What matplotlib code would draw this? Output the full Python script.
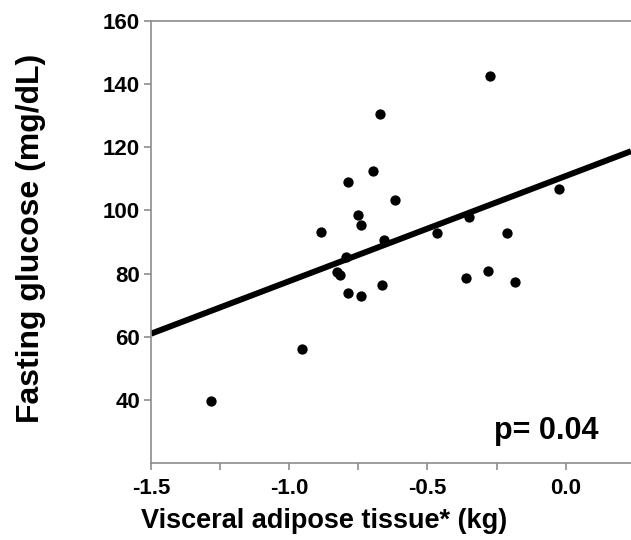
import matplotlib
matplotlib.use("Agg")
import matplotlib.pyplot as plt
import numpy as np

plt.rcParams['font.family'] = ['Liberation Sans', 'DejaVu Sans']

vat = [-0.274, -0.672, -0.697, -0.788, -0.616, -0.024, -0.751, -0.739, -0.350,
       -0.886, -0.464, -0.211, -0.657, -0.793, -0.829, -0.817, -0.362, -0.280,
       -0.183, -0.663, -0.787, -0.739, -0.953, -1.283]
glucose = [142.6, 130.5, 112.5, 109.1, 103.3, 106.9, 98.5, 95.4, 98.0,
           93.3, 92.7, 93.0, 90.6, 85.4, 80.5, 79.6, 78.5, 80.8,
           77.4, 76.5, 73.8, 72.9, 56.1, 39.5]
fit_slope = 33.3
fit_intercept = 110.9
x_ticks = [-1.5, -1.0, -0.5, 0.0]
x_tick_labels = ['-1.5', '-1.0', '-0.5', '0.0']
y_ticks = [40, 60, 80, 100, 120, 140, 160]
p_text = 'p= 0.04'

W, H = 631, 540
fig = plt.figure(figsize=(W / 100, H / 100), dpi=100)
ax = fig.add_axes([151/W, 77/H, 1 - 151/W, 442/H])

xlim = (-1.5, 0.236)
fx = np.array(xlim)
ax.plot(fx, fit_slope * fx + fit_intercept, color='black', lw=4.3, solid_capstyle='butt', zorder=2)
ax.scatter(vat, glucose, s=55, color='black', linewidths=0, zorder=3)

ax.set_xlim(*xlim)
ax.set_ylim(20, 160)
ax.set_xticks(x_ticks)
ax.set_xticklabels(x_tick_labels)
ax.set_xticks([-1.25, -0.75, -0.25], minor=True)
ax.set_yticks(y_ticks)

for s in ['left', 'bottom', 'top']:
    ax.spines[s].set_color('#8c8c8c')
    ax.spines[s].set_linewidth(1.2)
ax.spines['right'].set_visible(False)
ax.tick_params(axis='both', which='both', colors='#8c8c8c', length=5, width=1.2,
               labelcolor='black', labelsize=16, pad=3)
ax.tick_params(axis='x', which='both', pad=6)
for lbl in ax.get_xticklabels() + ax.get_yticklabels():
    lbl.set_fontweight('bold')

fig.text(324/W, 1 - 521/H, 'Visceral adipose tissue* (kg)', fontsize=19.5,
         fontweight='bold', ha='center', va='center')
fig.text(31/W, 1 - 238/H, 'Fasting glucose (mg/dL)', fontsize=23,
         fontweight='bold', ha='center', va='center', rotation=90)
fig.text(598/W, 1 - 431/H, p_text, fontsize=22, fontweight='bold', ha='right', va='center')

fig.savefig('out.png', dpi=100)
